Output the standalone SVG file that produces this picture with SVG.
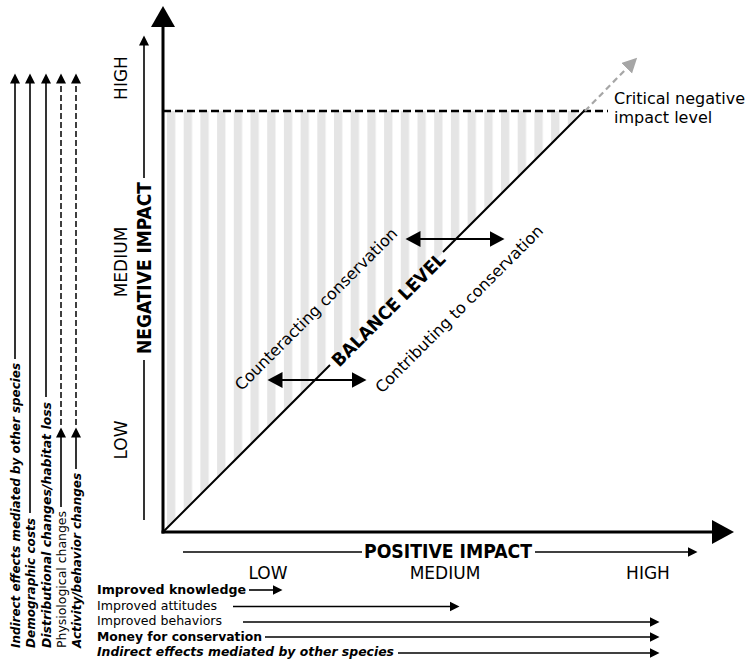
<svg xmlns="http://www.w3.org/2000/svg" width="751" height="662" viewBox="0 0 751 662">
<defs>
<pattern id="stripes" patternUnits="userSpaceOnUse" x="167" y="0" width="16.7" height="20"><rect x="0" y="0" width="8.3" height="20" fill="#e5e5e5"/></pattern>
<marker id="a10" markerUnits="userSpaceOnUse" markerWidth="12" markerHeight="12" refX="0.5" refY="5.5" orient="auto"><path d="M0,0.5 L10,5.5 L0,10.5 z" fill="#000"/></marker>
<marker id="a15" markerUnits="userSpaceOnUse" markerWidth="16" markerHeight="18" refX="0.5" refY="8" orient="auto-start-reverse"><path d="M0,0 L15,8 L0,16 z" fill="#000"/></marker>
<marker id="ag" markerUnits="userSpaceOnUse" markerWidth="16" markerHeight="16" refX="0.5" refY="7.5" orient="auto"><path d="M0,0 L15,7.5 L0,15 z" fill="#a6a6a6"/></marker>
</defs>
<style>
text{font-family:"DejaVu Sans",Verdana,sans-serif;fill:#000}
.lvl{font-size:17px}
.ttl{font-family:"DejaVu Sans Condensed","DejaVu Sans",sans-serif;font-stretch:condensed;font-weight:bold;font-size:19.5px}
.lbl{font-size:16px}
.sm{font-size:13px}
.b{font-weight:bold}
.bi{font-weight:bold;font-style:italic}
.ln{stroke:#000;stroke-width:1.6;fill:none}
.dsh{stroke:#000;stroke-width:1.5;stroke-dasharray:6 3;fill:none}
.ax{stroke:#000;stroke-width:3;fill:none}
</style>

<g id="region">
<polygon points="163,111 585,111 163,532" fill="url(#stripes)"/>
</g>

<g id="connectors">
<!-- axes -->
<line class="ax" x1="163" y1="533.5" x2="163" y2="24"/>
<polygon points="163,6 151,27 175,27" fill="#000"/>
<line class="ax" x1="161.5" y1="532" x2="715" y2="532"/>
<polygon points="734,532 712,520 712,544" fill="#000"/>
<!-- critical level -->
<line x1="163" y1="111" x2="608" y2="111" stroke="#000" stroke-width="2.5" stroke-dasharray="8 4"/>
<!-- balance line -->
<line x1="164" y1="531" x2="330" y2="365" stroke="#000" stroke-width="2"/>
<line x1="443" y1="252" x2="585" y2="110" stroke="#000" stroke-width="2"/>
<line x1="585" y1="111" x2="627" y2="68" stroke="#a6a6a6" stroke-width="2.2" stroke-dasharray="6 4" marker-end="url(#ag)"/>
<!-- double arrows -->
<line x1="420" y1="239" x2="490" y2="239" stroke="#000" stroke-width="2" marker-start="url(#a15)" marker-end="url(#a15)"/>
<line x1="282" y1="380" x2="352" y2="380" stroke="#000" stroke-width="2" marker-start="url(#a15)" marker-end="url(#a15)"/>
<!-- negative impact arrow -->
<line class="ln" x1="144" y1="520" x2="144" y2="360"/>
<line class="ln" x1="144" y1="178" x2="144" y2="45" marker-end="url(#a10)"/>
<!-- positive impact arrow -->
<line class="ln" x1="183" y1="552" x2="362" y2="552"/>
<line class="ln" x1="535" y1="552" x2="688" y2="552" marker-end="url(#a10)"/>
<!-- left arrows -->
<line class="ln" x1="15" y1="359" x2="15" y2="83" marker-end="url(#a10)"/>
<line class="ln" x1="30" y1="513" x2="30" y2="83" marker-end="url(#a10)"/>
<line class="ln" x1="46" y1="397" x2="46" y2="83" marker-end="url(#a10)"/>
<line class="ln" x1="61" y1="507" x2="61" y2="437" marker-end="url(#a10)"/>
<line class="dsh" x1="61" y1="425" x2="61" y2="83" marker-end="url(#a10)"/>
<line class="ln" x1="76" y1="469" x2="76" y2="437" marker-end="url(#a10)"/>
<line class="dsh" x1="76" y1="425" x2="76" y2="83" marker-end="url(#a10)"/>
<!-- bottom arrows -->
<line class="ln" x1="249" y1="590" x2="273" y2="590" marker-end="url(#a10)"/>
<line class="ln" x1="233" y1="606.5" x2="450" y2="606.5" marker-end="url(#a10)"/>
<line class="ln" x1="243" y1="622" x2="650" y2="622" marker-end="url(#a10)"/>
<line class="ln" x1="265" y1="637" x2="650" y2="637" marker-end="url(#a10)"/>
<line class="ln" x1="398" y1="653" x2="650" y2="653" marker-end="url(#a10)"/>
</g>

<g id="negative-axis-labels">
<text class="ttl" transform="translate(151,268) rotate(-90)" text-anchor="middle" textLength="172" lengthAdjust="spacingAndGlyphs">NEGATIVE IMPACT</text>
<text class="lvl" transform="translate(127,78) rotate(-90)" text-anchor="middle">HIGH</text>
<text class="lvl" transform="translate(127,262) rotate(-90)" text-anchor="middle">MEDIUM</text>
<text class="lvl" transform="translate(127,440) rotate(-90)" text-anchor="middle">LOW</text>
</g>

<g id="positive-axis-labels">
<text class="ttl" x="448" y="558" text-anchor="middle" textLength="168" lengthAdjust="spacingAndGlyphs">POSITIVE IMPACT</text>
<text class="lvl" x="268" y="579" text-anchor="middle">LOW</text>
<text class="lvl" x="445" y="579" text-anchor="middle">MEDIUM</text>
<text class="lvl" x="648" y="579" text-anchor="middle">HIGH</text>
</g>

<g id="critical-level">
<text class="lbl" x="614" y="104">Critical negative</text>
<text class="lbl" x="614" y="123">impact level</text>
</g>

<g id="balance-level">
<text class="ttl" style="font-size:18px" transform="translate(393,314) rotate(-45)" text-anchor="middle" textLength="152" lengthAdjust="spacingAndGlyphs">BALANCE LEVEL</text>
</g>

<g id="counteracting">
<text class="lbl" transform="translate(320,313) rotate(-45)" text-anchor="middle">Counteracting conservation</text>
</g>

<g id="contributing">
<text class="lbl" transform="translate(463,313) rotate(-45)" text-anchor="middle">Contributing to conservation</text>
</g>

<g id="negative-effects">
<text class="sm bi" transform="translate(19.5,648) rotate(-90)" textLength="285" lengthAdjust="spacingAndGlyphs">Indirect effects mediated by other species</text>
<text class="sm bi" transform="translate(34.5,648) rotate(-90)" textLength="130" lengthAdjust="spacingAndGlyphs">Demographic costs</text>
<text class="sm bi" transform="translate(50.5,648) rotate(-90)" textLength="246" lengthAdjust="spacingAndGlyphs">Distributional changes/habitat loss</text>
<text class="sm" transform="translate(65.5,648) rotate(-90)" textLength="137" lengthAdjust="spacingAndGlyphs">Physiological changes</text>
<text class="sm bi" transform="translate(80.5,648) rotate(-90)" textLength="175" lengthAdjust="spacingAndGlyphs">Activity/behavior changes</text>
</g>

<g id="positive-effects">
<text class="sm b" x="97" y="594" textLength="149" lengthAdjust="spacingAndGlyphs">Improved knowledge</text>
<text class="sm" x="97" y="610" textLength="120" lengthAdjust="spacingAndGlyphs">Improved attitudes</text>
<text class="sm" x="97" y="625" textLength="125" lengthAdjust="spacingAndGlyphs">Improved behaviors</text>
<text class="sm b" x="97" y="641" textLength="165" lengthAdjust="spacingAndGlyphs">Money for conservation</text>
<text class="sm bi" x="97" y="656" textLength="297" lengthAdjust="spacingAndGlyphs">Indirect effects mediated by other species</text>
</g>
</svg>
